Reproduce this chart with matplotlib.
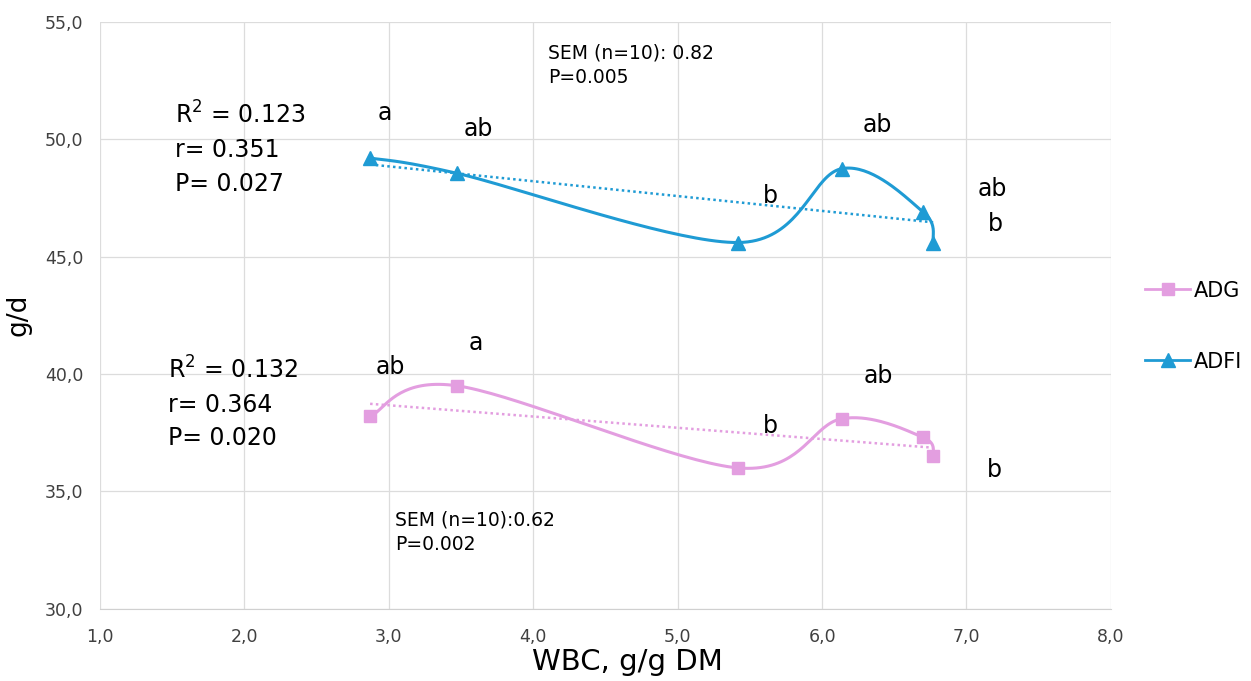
import numpy as np
import matplotlib
matplotlib.use("Agg")
import matplotlib.pyplot as plt
from matplotlib.lines import Line2D
from matplotlib.ticker import FuncFormatter

# data
wbc = [2.87, 3.47, 5.42, 6.14, 6.70, 6.77]
adfi = [49.2, 48.55, 45.6, 48.75, 46.9, 45.6]
adg = [38.2, 39.5, 36.0, 38.1, 37.3, 36.5]

adfi_letters = ["a", "ab", "b", "ab", "ab", "b"]
adfi_letter_pos = [(2.97, 51.1), (3.62, 50.45), (5.64, 47.6), (6.38, 50.6), (7.18, 47.9), (7.2, 46.4)]
adg_letters = ["ab", "a", "b", "ab", "b"]
adg_letter_pos = [(3.01, 40.3), (3.6, 41.3), (5.64, 37.8), (6.39, 39.9), (7.19, 35.9)]

adfi_color = "#1f9bd4"
adg_color = "#e39ee0"


def smooth(x, y, n=40):
    # excel-like smoothed line: cubic bezier, control points from neighbours
    pts = np.column_stack([x, y]).astype(float)
    out = []
    for i in range(len(pts) - 1):
        p0 = pts[max(i - 1, 0)]
        p1 = pts[i]
        p2 = pts[i + 1]
        p3 = pts[min(i + 2, len(pts) - 1)]
        c1 = p1 + (p2 - p0) / 6
        c2 = p2 - (p3 - p1) / 6
        t = np.linspace(0, 1, n)[:, None]
        seg = (1 - t) ** 3 * p1 + 3 * (1 - t) ** 2 * t * c1 + 3 * (1 - t) * t ** 2 * c2 + t ** 3 * p2
        out.append(seg)
    out = np.vstack(out)
    return out[:, 0], out[:, 1]


fig = plt.figure(figsize=(12.51, 6.81), dpi=100)
ax = fig.add_axes([0.080, 0.106, 0.808, 0.862])

for yv, col, mk, ms in [(adfi, adfi_color, "^", 9.5), (adg, adg_color, "s", 8.5)]:
    sx, sy = smooth(wbc, yv)
    ax.plot(sx, sy, color=col, lw=2.2, zorder=3)
    ax.plot(wbc, yv, ls="none", marker=mk, ms=ms, color=col, zorder=4)
    k, b = np.polyfit(wbc, yv, 1)
    tx = np.array([wbc[0], wbc[-1]])
    ax.plot(tx, k * tx + b, color=col, lw=1.8, ls=(0, (1, 1.3)), zorder=2)

for s, (x, y) in zip(adfi_letters, adfi_letter_pos):
    ax.text(x, y, s, fontsize=17, ha="center", va="center")
for s, (x, y) in zip(adg_letters, adg_letter_pos):
    ax.text(x, y, s, fontsize=17, ha="center", va="center")

ax.text(1.52, 49.6, "R$^2$ = 0.123\nr= 0.351\nP= 0.027", fontsize=17, va="center", ha="left", linespacing=1.5)
ax.text(1.47, 38.76, "R$^2$ = 0.132\nr= 0.364\nP= 0.020", fontsize=17, va="center", ha="left", linespacing=1.5)
ax.text(4.10, 53.15, "SEM (n=10): 0.82\nP=0.005", fontsize=13.5, va="center", ha="left", linespacing=1.35)
ax.text(3.04, 33.25, "SEM (n=10):0.62\nP=0.002", fontsize=13.5, va="center", ha="left", linespacing=1.35)

ax.set_xlim(1, 8)
ax.set_ylim(30, 55)
ax.set_xticks(np.arange(1, 9, 1))
ax.set_yticks(np.arange(30, 56, 5))
fmt = FuncFormatter(lambda v, p: f"{v:.1f}".replace(".", ","))
ax.xaxis.set_major_formatter(fmt)
ax.yaxis.set_major_formatter(fmt)
ax.grid(True, color="#dcdcdc", lw=0.9)
ax.set_axisbelow(True)
for s in ["top", "right", "left"]:
    ax.spines[s].set_visible(False)
ax.spines["bottom"].set_color("#d0d0d0")
ax.tick_params(length=0, labelsize=12.5, labelcolor="#404040", pad=14)
ax.tick_params(axis="y", pad=12)
ax.set_xlabel("WBC, g/g DM", fontsize=21)
ax.xaxis.set_label_coords(0.522, -0.066)
ax.set_ylabel("g/d", fontsize=19)
ax.yaxis.set_label_coords(-0.068, 0.5)

handles = [Line2D([], [], color=adg_color, marker="s", ms=8.5, lw=2),
           Line2D([], [], color=adfi_color, marker="^", ms=9.5, lw=2)]
fig.legend(handles, ["ADG", "ADFI"], loc="center left", bbox_to_anchor=(0.900, 0.521),
           frameon=False, fontsize=15, labelspacing=2.45, handlelength=2.2, handletextpad=0.15)

fig.savefig("out.png", dpi=100)
